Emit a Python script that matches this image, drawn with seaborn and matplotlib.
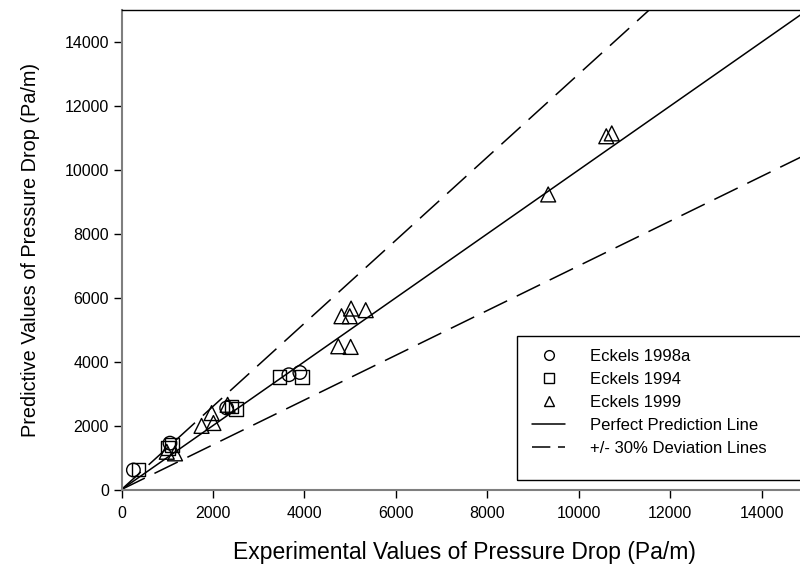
import matplotlib
matplotlib.use("Agg")
import matplotlib.pyplot as plt
from matplotlib.lines import Line2D
from matplotlib.patches import Rectangle
import numpy as np
import pandas as pd
import seaborn as sns

# Measured vs. predicted pressure drop (Pa/m)
eckels_1998a_exp = [260, 1060, 2300, 3660, 3900]
eckels_1998a_pred = [610, 1450, 2550, 3590, 3660]

eckels_1994_exp = [370, 1020, 1100, 2410, 2500, 3450, 3950]
eckels_1994_pred = [630, 1290, 1400, 2600, 2510, 3520, 3520]

eckels_1999_exp = [990, 1170, 1750, 1970, 2010, 2320, 4740, 4810, 4990,
                   5010, 5020, 5340, 9330, 10600, 10720]
eckels_1999_pred = [1180, 1130, 1990, 2390, 2080, 2650, 4480, 5420, 5420,
                    4460, 5660, 5610, 9230, 11050, 11140]

# Reference lines: perfect prediction and +/- 30 % band
line_x = [0, 15000]
perfect_y = [0, 15000]
upper_y = [0, 19500]
lower_y = [0, 10500]

x_ticks = [0, 2000, 4000, 6000, 8000, 10000, 12000, 14000]
y_ticks = [0, 2000, 4000, 6000, 8000, 10000, 12000, 14000]

x_label = "Experimental Values of Pressure Drop (Pa/m)"
y_label = "Predictive Values of Pressure Drop (Pa/m)"
series_labels = ["Eckels 1998a", "Eckels 1994", "Eckels 1999"]
line_labels = ["Perfect Prediction Line", "+/- 30% Deviation Lines"]

sns.set_style("white")
plt.rcParams["font.family"] = ["Liberation Sans", "DejaVu Sans"]
plt.rcParams.update({"text.color": "black", "axes.labelcolor": "black",
                     "xtick.color": "black", "ytick.color": "black"})

W, H = 800, 573
fig = plt.figure(figsize=(W / 100, H / 100), dpi=100)
ax = fig.add_axes([121.5 / W, 1 - 489.5 / H, 686 / W, 479.5 / H])

dash = (17, 7)
sns.lineplot(x=line_x, y=perfect_y, ax=ax, color="black", linewidth=1.1)
sns.lineplot(x=line_x, y=upper_y, ax=ax, color="black", linewidth=1.1)
ax.lines[-1].set_dashes(dash)
sns.lineplot(x=line_x, y=lower_y, ax=ax, color="black", linewidth=1.1)
ax.lines[-1].set_dashes(dash)

marker_kw = dict(facecolor="none", edgecolor="black", linewidth=1.0, zorder=3)
sns.scatterplot(x=eckels_1998a_exp, y=eckels_1998a_pred, ax=ax, marker="o",
                s=95, **marker_kw)
sns.scatterplot(x=eckels_1994_exp, y=eckels_1994_pred, ax=ax, marker="s",
                s=95, **marker_kw)
sns.scatterplot(x=eckels_1999_exp, y=eckels_1999_pred, ax=ax, marker="^",
                s=115, **marker_kw)

ax.set_xlim(0, 15000)
ax.set_ylim(0, 15000)
ax.set_xticks(x_ticks)
ax.set_yticks(y_ticks)
ax.tick_params(axis="both", direction="out", length=6, width=1,
               color="black", labelcolor="black", labelsize=11.5,
               bottom=True, left=True)
ax.tick_params(axis="x", pad=6)
ax.tick_params(axis="y", pad=3)
ax.set_xlabel(x_label, fontsize=16.5, labelpad=14, color="black")
ax.set_ylabel(y_label, fontsize=14.3, labelpad=18, color="black")

for side in ("left", "bottom"):
    ax.spines[side].set_color("#7f7f7f")
    ax.spines[side].set_linewidth(1.5)
ax.spines["top"].set_color("black")
ax.spines["top"].set_linewidth(1.0)
ax.spines["right"].set_visible(False)

handles = [
    Line2D([], [], linestyle="none", marker="o", markersize=7,
           markerfacecolor="none", markeredgecolor="black", markeredgewidth=1),
    Line2D([], [], linestyle="none", marker="s", markersize=7,
           markerfacecolor="none", markeredgecolor="black", markeredgewidth=1),
    Line2D([], [], linestyle="none", marker="^", markersize=7,
           markerfacecolor="none", markeredgecolor="black", markeredgewidth=1),
    Line2D([], [], color="black", linewidth=1.1),
    Line2D([], [], color="black", linewidth=1.1, dashes=(12, 5)),
]
leg = fig.legend(handles, series_labels + line_labels,
                 loc="upper left",
                 bbox_to_anchor=(517 / W, 1 - 334 / H),
                 fontsize=12, frameon=False, handlelength=2.0,
                 handletextpad=1.5, labelspacing=0.48, borderpad=0.9,
                 borderaxespad=0.0, labelcolor="black")

# legend frame, running off the right edge of the figure
fig.patches.append(Rectangle((517 / W, 1 - 480 / H), 300 / W, 144 / H,
                             transform=fig.transFigure, fill=False,
                             edgecolor="black", linewidth=1.0, zorder=5))

fig.savefig("out.png", dpi=100)
